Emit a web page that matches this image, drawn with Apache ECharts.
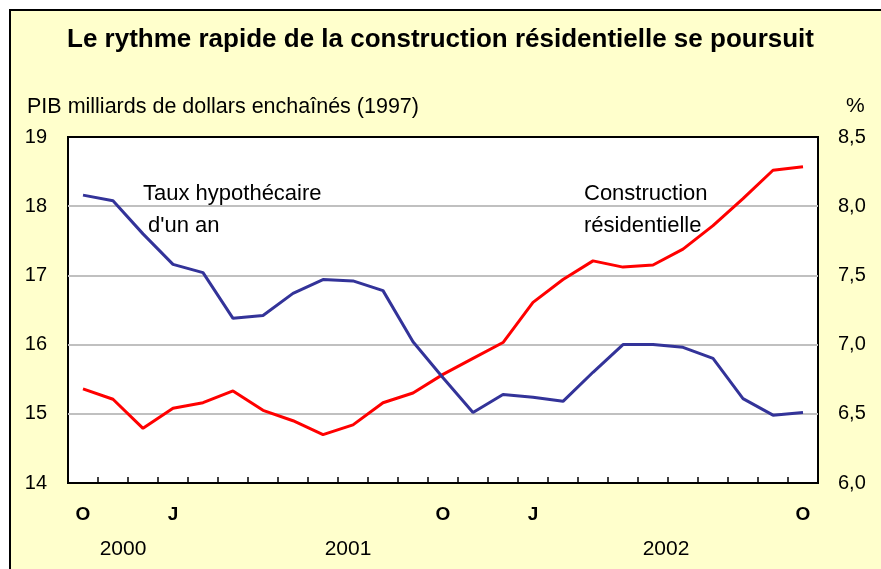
<!DOCTYPE html>
<html><head><meta charset="utf-8">
<script src="https://cdn.jsdelivr.net/npm/echarts@6/dist/echarts.min.js"></script>
<style>
html,body{margin:0;padding:0;background:#fff;}
#frame{position:absolute;left:9px;top:9px;width:900px;height:600px;border:2px solid #000;background:#FFFFCC;box-sizing:border-box;}
#c{position:absolute;left:0;top:0;width:881px;height:569px;}
</style></head>
<body>
<div id="frame"></div>
<div id="c"></div>
<script>
const months = ['2000-10','2000-11','2000-12','2001-01','2001-02','2001-03','2001-04','2001-05','2001-06','2001-07','2001-08','2001-09','2001-10','2001-11','2001-12','2002-01','2002-02','2002-03','2002-04','2002-05','2002-06','2002-07','2002-08','2002-09','2002-10'];
const monthLabels = ['O','','','J','','','','','','','','','O','','','J','','','','','','','','','O'];
const yearLabels = ['','2000','','','','','','','','2001','','','','','','','','','','2002','','','','',''];
const construction = [15.36,15.21,14.79,15.08,15.16,15.33,15.05,14.90,14.70,14.84,15.16,15.30,15.57,15.80,16.03,16.61,16.94,17.21,17.12,17.15,17.38,17.72,18.11,18.52,18.57];
const mortgage = [8.08,8.04,7.80,7.58,7.52,7.19,7.21,7.37,7.47,7.46,7.39,7.02,6.76,6.51,6.64,6.62,6.59,6.80,7.00,7.00,6.98,6.90,6.61,6.49,6.51];
const leftTicks = {min:14,max:19,interval:1};
const rightTicks = {min:6,max:8.5,interval:0.5};

const F = 'Arial, "Liberation Sans", sans-serif';
const chart = echarts.init(document.getElementById('c'), null, {renderer:'canvas'});
chart.setOption({
  backgroundColor:'transparent',
  animation:false,
  textStyle:{fontFamily:F},
  title:[
    {text:'Le rythme rapide de la construction résidentielle se poursuit', left:'center', top:22,
     textStyle:{fontFamily:F,fontSize:26,fontWeight:'bold',color:'#000'}},
    {text:'PIB milliards de dollars enchaînés (1997)', left:22, top:91,
     textStyle:{fontFamily:F,fontSize:21.5,fontWeight:'normal',color:'#000'}},
    {text:'%', left:841, top:91,
     textStyle:{fontFamily:F,fontSize:21,fontWeight:'normal',color:'#000'}}
  ],
  grid:{left:68,right:63,top:137,bottom:86,show:true,backgroundColor:'#fff',borderColor:'#000',borderWidth:2},
  xAxis:[
    {type:'category',data:months,boundaryGap:true,position:'bottom',
     axisLine:{show:true,lineStyle:{color:'#000',width:2}},
     axisTick:{show:true,inside:true,length:6,interval:0,lineStyle:{color:'#000',width:1.5}},
     axisLabel:{interval:0,margin:22,fontFamily:F,fontSize:19,fontWeight:'bold',color:'#000',
       formatter:(v,i)=>monthLabels[i]}},
    {type:'category',data:months,boundaryGap:true,position:'bottom',
     axisLine:{show:false},axisTick:{show:false},
     axisLabel:{interval:0,margin:56,color:'#000',
       formatter:(v,i)=>yearLabels[i]?('{y'+i+'|'+yearLabels[i]+'}'):'',
       rich:{
         y1:{fontFamily:F,fontSize:21,color:'#000',padding:[0,0,0,20]},
         y9:{fontFamily:F,fontSize:21,color:'#000',padding:[0,10,0,0]},
         y19:{fontFamily:F,fontSize:21,color:'#000',padding:[0,0,0,26]}
       }}}
  ],
  yAxis:[
    {type:'value',position:'left',min:leftTicks.min,max:leftTicks.max,interval:leftTicks.interval,
     axisLine:{show:false},axisTick:{show:false},
     axisLabel:{margin:21,fontFamily:F,fontSize:20,color:'#000'},
     splitLine:{show:true,lineStyle:{color:['#000','#C0C0C0','#C0C0C0','#C0C0C0','#C0C0C0','#000'],width:2}}},
    {type:'value',position:'right',min:rightTicks.min,max:rightTicks.max,interval:rightTicks.interval,
     axisLine:{show:false},axisTick:{show:false},
     axisLabel:{margin:20,fontFamily:F,fontSize:20,color:'#000',
       formatter:v=>v.toFixed(1).replace('.',',')},
     splitLine:{show:false}}
  ],
  graphic:[
    {type:'text',left:143,top:183,style:{text:'Taux hypothécaire',font:'22px '+F,fill:'#000'}},
    {type:'text',left:148,top:215,style:{text:"d'un an",font:'22px '+F,fill:'#000'}},
    {type:'text',left:584,top:183,style:{text:'Construction',font:'22px '+F,fill:'#000'}},
    {type:'text',left:584,top:215,style:{text:'résidentielle',font:'22px '+F,fill:'#000'}}
  ],
  series:[
    {name:'Construction résidentielle',type:'line',xAxisIndex:0,yAxisIndex:0,data:construction,
     symbol:'none',lineStyle:{color:'#FF0000',width:3},z:3},
    {name:"Taux hypothécaire d'un an",type:'line',xAxisIndex:0,yAxisIndex:1,data:mortgage,
     symbol:'none',lineStyle:{color:'#333399',width:3},z:4}
  ]
});
</script>
</body></html>
